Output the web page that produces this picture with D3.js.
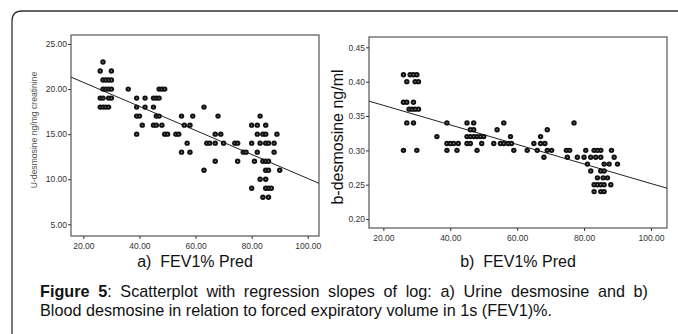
<!DOCTYPE html>
<html><head><meta charset="utf-8">
<script src="https://cdn.jsdelivr.net/npm/d3@7"></script>
<style>body{margin:0;background:#fff;} svg{display:block;font-family:"Liberation Sans",Arial,sans-serif;}</style>
</head><body>
<svg id="c" width="678" height="334"></svg>
<script>
// ---- Data ----
const xTicks = [20, 40, 60, 80, 100];
const urineTicks = [5, 10, 15, 20, 25];
const bloodTicks = [0.20, 0.25, 0.30, 0.35, 0.40, 0.45];

const urineFEV = [27,26,30,27,28,29,30,27,28,29,30,36,47,48,49,26,27,29,30,39,42,45,46,47,
  26,27,28,29,39,42,45,63,39,40,46,47,55,59,68,83,41,45,46,48,56,58,80,82,85,
  39,49,50,53,54,67,69,82,84,85,89,57,64,65,67,70,74,75,80,83,85,86,88,
  55,58,77,78,82,88,67,75,81,84,85,86,63,85,86,90,83,85,80,85,86,87,84,86];
const urineDes = [23,22,22,21,21,21,21,20,20,20,20,20,20,20,20,19,19,19,19,19,19,19,19,19,
  18,18,18,18,18,18,18,18,17,17,17,17,17,17,17,17,16,16,16,16,16,16,16,16,16,
  15,15,15,15,15,15,15,15,15,15,15,14,14,14,14,14,14,14,14,14,14,14,14,
  13,13,13,13,13,13,12,12,12,12,12,12,11,11,11,11,10,10,9,9,9,9,8,8];
const urineFit = [23.41, -0.1333]; // intercept, slope

const bloodFEV = [26,28,29,30,27,29.5,30.5,26,27,29,27.7,28.6,29.5,30.5,
  27,29,39,45,47,56,77,46,47,54,69,36,45,46,47,48,49,50,58,67,
  39,40,41,42.4,45,46,49.4,53,55,56,57.3,58.3,65,67,68.3,
  26,30,39,42,48,59,63,66,69,70.3,74.7,75.7,80.5,83,84,85,88.2,
  68,75,78,80,82,83.5,85,89,81,86,87.5,90,82,85,86,84,85.7,87,83,84,85,86,88,83,85,86];
const bloodDes = [0.41,0.41,0.41,0.41,0.40,0.40,0.40,0.37,0.37,0.37,0.36,0.36,0.36,0.36,
  0.34,0.34,0.34,0.34,0.34,0.34,0.34,0.33,0.33,0.33,0.33,0.32,0.32,0.32,0.32,0.32,0.32,0.32,0.32,0.32,
  0.31,0.31,0.31,0.31,0.31,0.31,0.31,0.31,0.31,0.31,0.31,0.31,0.31,0.31,0.31,
  0.30,0.30,0.30,0.30,0.30,0.30,0.30,0.30,0.30,0.30,0.30,0.30,0.30,0.30,0.30,0.30,0.30,
  0.29,0.29,0.29,0.29,0.29,0.29,0.29,0.29,0.28,0.28,0.28,0.28,0.27,0.27,0.27,0.26,0.26,0.26,0.25,0.25,0.25,0.25,0.25,0.24,0.24,0.24];
const bloodFit = [0.394, -0.001423];

const captionLines = ["Scatterplot with regression slopes of log: a) Urine desmosine and b)",
  "Blood desmosine in relation to forced expiratory volume in 1s (FEV1)%."];

const svg = d3.select("#c");

// outer rounded box (top + left)
svg.append("path").attr("d","M12,334 L12,21 Q12,11 22,11 L678,11")
  .attr("fill","none").attr("stroke","#333").attr("stroke-width",1.3);

function panel(o){
  const x = d3.scaleLinear().domain(o.xDom).range([o.x0,o.x1]);
  const y = d3.scaleLinear().domain(o.yDom).range([o.y1,o.y0]);
  const g = svg.append("g");
  g.append("rect").attr("x",o.x0).attr("y",o.y0).attr("width",o.x1-o.x0).attr("height",o.y1-o.y0)
    .attr("fill","none").attr("stroke","#555").attr("stroke-width",1.2);
  const ya = g.append("g").attr("transform",`translate(${o.x0},0)`)
    .call(d3.axisLeft(y).tickValues(o.yTicks).tickFormat(d3.format(".2f")).tickSize(3).tickPadding(1));
  ya.select(".domain").remove();
  ya.selectAll("text").attr("font-size",o.tickFs).attr("fill","#333").attr("font-family","Liberation Sans, Arial");
  ya.selectAll("line").attr("stroke","#333");
  const xa = g.append("g").attr("transform",`translate(0,${o.y1})`)
    .call(d3.axisBottom(x).tickValues(xTicks).tickFormat(d3.format(".2f")).tickSize(3).tickPadding(o.xPad));
  xa.select(".domain").remove();
  xa.selectAll("text").attr("font-size",o.tickFs).attr("fill","#333").attr("font-family","Liberation Sans, Arial");
  xa.selectAll("line").attr("stroke","#333");
  // regression line
  g.append("clipPath").attr("id","cl"+o.id).append("rect")
    .attr("x",o.x0).attr("y",o.y0).attr("width",o.x1-o.x0).attr("height",o.y1-o.y0);
  const xd = o.xDom;
  g.append("line").attr("clip-path",`url(#cl${o.id})`)
    .attr("x1",x(xd[0])).attr("y1",y(o.fit[0]+o.fit[1]*xd[0]))
    .attr("x2",x(xd[1])).attr("y2",y(o.fit[0]+o.fit[1]*xd[1]))
    .attr("stroke","#222").attr("stroke-width",1);
  // points
  const pts = g.append("g");
  o.xs.forEach((v,i)=>{
    pts.append("circle").attr("cx",x(v)).attr("cy",y(o.ys[i])).attr("r",2.7).attr("fill","#111");
    pts.append("circle").attr("cx",x(v)).attr("cy",y(o.ys[i])).attr("r",0.7).attr("fill","#999");
  });
  // titles
  g.append("text").attr("x",(o.x0+o.x1)/2).attr("y",o.titleY).attr("text-anchor","middle")
    .attr("font-size",16).attr("fill","#111").attr("xml:space","preserve").text(o.title);
  g.append("text").attr("transform",`translate(${o.ylX},${o.ylY}) rotate(-90)`).attr("text-anchor","middle")
    .attr("font-size",o.ylFs).attr("fill",o.ylCol).text(o.ylabel);
}

panel({id:"a", x0:71, x1:319, y0:35, y1:236, xDom:[15.6,104], yDom:[3.7,26], yTicks:urineTicks,
  xs:urineFEV, ys:urineDes, fit:urineFit, tickFs:8.5, xPad:4,
  title:"a)  FEV1% Pred", titleY:267, ylabel:"U-desmosine ng/mg creatinine", ylX:37, ylY:130, ylFs:8.6, ylCol:"#555"});
panel({id:"b", x0:369, x1:667, y0:37, y1:228, xDom:[15.7,104.8], yDom:[0.187,0.465], yTicks:bloodTicks,
  xs:bloodFEV, ys:bloodDes, fit:bloodFit, tickFs:8.5, xPad:4,
  title:"b)  FEV1% Pred", titleY:267, ylabel:"b-desmosine ng/ml", ylX:343, ylY:137, ylFs:16, ylCol:"#111"});

// caption (first line justified to the right margin)
const capFs = 16.2;
const cap = svg.append("text").attr("x",40).attr("y",297).attr("font-size",capFs).attr("fill","#111");
cap.append("tspan").attr("font-weight","bold").text("Figure 5");
cap.append("tspan").text(": " + captionLines[0]);
const natural = cap.node().getComputedTextLength();
const spaces = ("Figure 5: " + captionLines[0]).split(" ").length - 1;
cap.attr("word-spacing", Math.max(0, (648 - 40 - natural) / spaces));
svg.append("text").attr("x",40).attr("y",316).attr("font-size",capFs).attr("fill","#111")
  .text(captionLines[1]);
</script>
</body></html>
